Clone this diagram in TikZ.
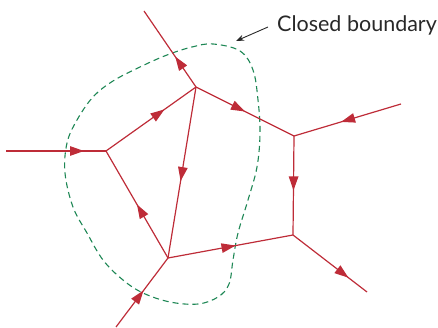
\documentclass[tikz,border=0pt]{standalone}
\usepackage{fontspec}
\setmainfont{Lato}
\usetikzlibrary{arrows.meta,decorations.markings}
\definecolor{wirered}{RGB}{190,44,56}
\definecolor{bgreen}{RGB}{30,135,85}
\definecolor{txtgray}{RGB}{40,40,40}
\tikzset{
  wire/.style={draw=wirered,line width=1.2pt},
  midarrow/.style={postaction={decorate,decoration={markings,
     mark=at position #1 with {\arrow[wirered]{Triangle[length=14pt,width=9.5pt]}}}}},
  boundary/.style={draw=bgreen,line width=1.1pt,dash pattern=on 6pt off 4pt},
}
\begin{document}
\begin{tikzpicture}[x=1pt,y=-1pt]
\useasboundingbox (0,0) rectangle (438,328);
% junctions and line ends
\coordinate (A) at (196,87);
\coordinate (L) at (106,151);
\coordinate (B) at (168,258);
\coordinate (R1) at (294,136);
\coordinate (R2) at (293,235);
\coordinate (eTL) at (144,11);
\coordinate (eL) at (6,151);
\coordinate (eB) at (116,327);
\coordinate (eR) at (401,104);
\coordinate (eBR) at (367,292);
% boundary
\draw[boundary] plot[smooth cycle,tension=0.6] coordinates {
 (213,44) (240,51) (253,70) (258,100) (260,133) (257,167) (248,200)
 (238,233) (233,260) (229,284) (218,297) (198,304) (170,302)
 (143,293) (123,280) (103,260) (87,233) (73,207) (65,173) (67,143)
 (77,120) (93,97) (113,81) (140,67) (167,55) (192,47)};
% wires
\draw[wire,midarrow=0.40] (A) -- (eTL);
\draw[wire,midarrow=0.78] (eL) -- (L);
\draw[wire,midarrow=0.65] (L) -- (A);
\draw[wire,midarrow=0.55] (A) -- (B);
\draw[wire,midarrow=0.50] (B) -- (L);
\draw[wire,midarrow=0.50] (A) -- (R1);
\draw[wire,midarrow=0.56] (eR) -- (R1);
\draw[wire,midarrow=0.55] (R1) -- (R2);
\draw[wire,midarrow=0.54] (B) -- (R2);
\draw[wire,midarrow=0.75] (R2) -- (eBR);
\draw[wire,midarrow=0.53] (eB) -- (B);
% label
\node[anchor=base west,inner sep=0pt,text=txtgray,font=\fontsize{21.5}{26}\selectfont] (lab) at (277,32) {Closed boundary};
\coordinate (tailL) at (268,27);
\coordinate (tipL) at (236,41);
\draw[-{Stealth[length=8pt,width=6pt]},line width=0.9pt,txtgray] (tailL) -- (tipL);
\end{tikzpicture}
\end{document}
